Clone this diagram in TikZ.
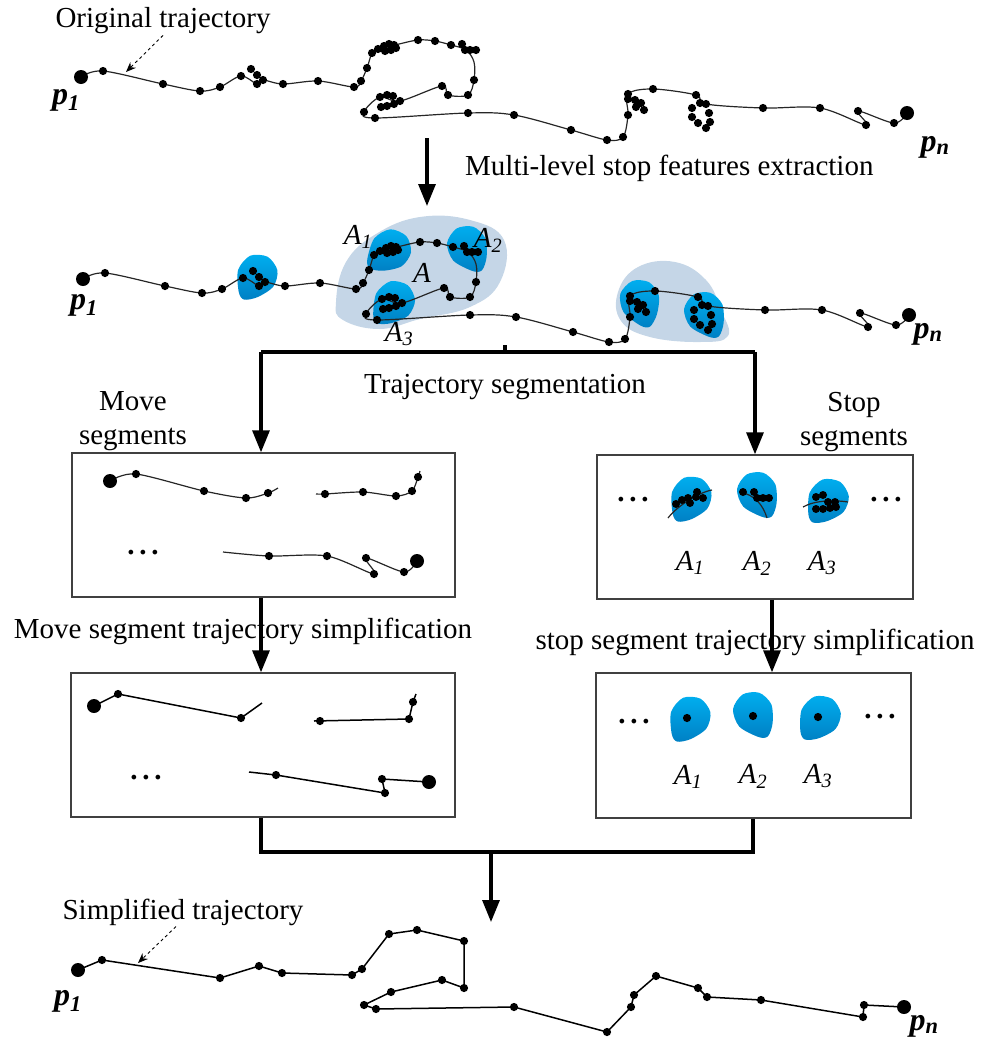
\documentclass[tikz,border=0pt]{standalone}
\usepackage{fontspec}
\setmainfont{Liberation Serif}
\usetikzlibrary{arrows.meta,positioning}
\definecolor{stopBleu}{RGB}{0,174,239}
\definecolor{stopBleuFonce}{RGB}{0,128,196}
\definecolor{zoneGris}{RGB}{197,214,231}

\tikzset{
  traj/.style={line width=1.2pt, black!85},
  trajdroit/.style={line width=1.5pt, black},
  flux/.style={line width=3.2pt, -{Triangle[length=22pt,width=17pt]}},
  lien/.style={line width=3.2pt},
  cadre/.style={draw=black!75, line width=1.4pt, inner sep=0pt},
  pointeur/.style={dashed, line width=0.9pt, -{Stealth[length=10pt,width=8pt]}},
  etiq/.style={inner sep=1pt}
}

% une zone d'arret (tache bleue)
\newcommand{\tache}[3]{%
  \shade[top color=stopBleu, bottom color=stopBleuFonce, shift={(#1,#2)}, rotate=#3, scale=1.15]
    plot[smooth cycle] coordinates {(-18,8) (-12,-10) (2,-18) (16,-12) (20,2) (12,14) (-4,18) (-16,16)};}

% la trajectoire originale
\newcommand{\trajet}{%
  \draw[traj] plot[smooth, tension=0.55] coordinates {(81,77) (103,71) (163,84) (200,91) (220,87) (241,76) (257,84) (263,80) (283,84) (318,81) (354,87) (361,81) (367,68) (372,53) (378,49) (395,45) (418,40) (435,41) (451,45) (466,50) (474,62) (474,80) (468,95) (448,95) (442,86) (400,101) (380,97) (364,112) (375,118) (468,113) (514,115) (571,130) (607,140) (623,137) (628,115) (628,94) (653,89) (696,95) (706,104) (763,108) (820,108) (866,125) (858,111) (894,123) (907,113)};
  \foreach \p in {(103,71),(163,84),(200,91),(220,87),(241,76),(251,69),(257,75),(257,84),(263,80),(283,84),(318,81),(354,87),(361,81),(367,68),(372,53),(378,49),(384,46),(389,44),(394,45),(385,51),(391,50),(396,48),(418,40),(435,41),(451,45),(462,44),(465,50),(470,50),(476,50),(474,80),(468,95),(448,95),(442,86),(380,97),(387,95),(393,96),(400,101),(381,107),(387,106),(394,104),(364,112),(375,118),(468,113),(514,115),(571,130),(607,140),(623,137),(628,115),(628,94),(628,99),(635,100),(641,103),(636,107),(644,110),(653,89),(696,95),(700,103),(706,104),(692,108),(709,113),(692,117),(710,122),(698,123),(706,128),(763,108),(820,108),(858,111),(866,125),(894,123)}
    \fill \p circle (4.1pt);
  \fill (81,77) circle (7pt);
  \fill (907,113) circle (7pt);}

\newcommand{\pun}{\textbf{\textit{p}\textsubscript{\textit{1}}}}
\newcommand{\pen}{\textbf{\textit{p}\textsubscript{\textit{n}}}}

\begin{document}
\begin{tikzpicture}[x=1pt, y=-1pt, font=\fontsize{29}{34}\selectfont]
  \useasboundingbox (0,0) rectangle (991,1039);

  % Trajectoire originale
  \trajet
  \node[etiq] (orig) at (163,21) {Original trajectory};
  \coordinate (origpt) at (126,72);
  \draw[pointeur] (orig.south) -- (origpt);
  \node[etiq, font=\fontsize{32}{36}\selectfont] (p1a) at (66,100) {\pun};
  \node[etiq, font=\fontsize{32}{36}\selectfont] (pna) at (935,147) {\pen};

  % Extraction
  \coordinate (fluxA) at (427,138);
  \coordinate (fluxB) at (427,206);
  \draw[flux] (fluxA) -- (fluxB);
  \node[etiq, anchor=west] (extr) at (464,168) {Multi-level stop features extraction};

  % Zones d'arret
  \fill[zoneGris] plot[smooth cycle, tension=0.7] coordinates {(336,302) (346,262) (376,234) (420,217) (470,220) (504,240) (500,282) (470,307) (420,319) (380,329) (343,320)};
  \fill[zoneGris] plot[smooth cycle, tension=0.7] coordinates {(618,292) (638,267) (675,262) (706,280) (721,310) (728,336) (700,342) (650,337) (621,321)};
  \tache{255}{276}{20}
  \tache{388}{250}{0}
  \tache{467}{249}{80}
  \tache{392}{302}{10}
  \tache{639}{303}{70}
  \tache{704}{315}{80}
  \begin{scope}[shift={(2,202)}]
    \trajet
  \end{scope}
  \node[etiq] (A1) at (358,237) {\textit{A\textsubscript{1}}};
  \node[etiq] (A2) at (488,240) {\textit{A\textsubscript{2}}};
  \node[etiq] (A) at (422,273) {\textit{A}};
  \node[etiq] (A3) at (399,334) {\textit{A\textsubscript{3}}};
  \node[etiq, font=\fontsize{32}{36}\selectfont] (p1b) at (84,305) {\pun};
  \node[etiq, font=\fontsize{32}{36}\selectfont] (pnb) at (928,334) {\pen};

  % Segmentation
  \node[cadre, minimum width=383pt, minimum height=144pt] (movebox) at (263.5,525) {};
  \node[cadre, minimum width=316pt, minimum height=144pt] (stopbox) at (755,527) {};
  \coordinate (splitC) at (505,345);
  \coordinate (splitL) at (261,352);
  \coordinate (splitR) at (755,352);
  \draw[lien] (splitC) -- (splitC |- splitL);
  \draw[lien] (splitL) -- (splitR);
  \draw[flux] (splitL) -- (splitL |- movebox.north);
  \draw[flux] (splitR) -- (splitR |- stopbox.north);
  \node[etiq] (segm) at (505,387) {Trajectory segmentation};
  \node[etiq, align=center] (movelab) at (133,421) {Move\\segments};
  \node[etiq, align=center] (stoplab) at (854,422) {Stop\\segments};

  % Segments de deplacement
  \draw[traj] plot[smooth, tension=0.5] coordinates {(110,481) (136,474) (204,491) (246,498) (268,493) (278,488)};
  \draw[traj] plot[smooth, tension=0.5] coordinates {(316,494) (325,494) (363,492) (396,496) (412,491) (418,477) (420,471)};
  \draw[traj] plot[smooth, tension=0.5] coordinates {(223,552) (269,556) (327,556) (374,574) (366,558) (404,572) (417,561)};
  \foreach \p in {(136,474),(204,491),(246,498),(268,493),(325,494),(363,492),(396,496),(412,491),(418,477),(269,556),(327,556),(374,574),(366,558),(404,572)}
    \fill \p circle (4.1pt);
  \fill (110,481) circle (7pt);
  \fill (417,561) circle (7pt);
  \node[etiq] (dotsM) at (143,553) {\textbf{.\,.\,.}};

  % Segments d'arret
  \node[etiq] (dotsS1) at (633,500) {\textbf{.\,.\,.}};
  \node[etiq] (dotsS2) at (886,500) {\textbf{.\,.\,.}};
  \tache{689}{498}{20}
  \tache{757}{495}{80}
  \tache{826}{500}{15}
  \draw[traj] (668,518) .. controls (678,505) and (700,492) .. (712,490);
  \draw[traj] (740,492) .. controls (755,495) and (763,505) .. (767,518);
  \draw[traj] (803,507) .. controls (815,500) and (835,500) .. (848,502);
  \foreach \p in {(676,504),(682,500),(688,498),(696,497),(690,503),(697,492),(703,498),(743,492),(754,492),(757,498),(763,498),(769,498),(816,497),(823,495),(828,502),(835,502),(816,509),(823,509),(830,508),(836,507)}
    \fill \p circle (4pt);
  \node[etiq] (sA1) at (690,563) {\textit{A\textsubscript{1}}};
  \node[etiq] (sA2) at (757,563) {\textit{A\textsubscript{2}}};
  \node[etiq] (sA3) at (822,563) {\textit{A\textsubscript{3}}};

  % Simplification
  \node[cadre, minimum width=384pt, minimum height=144pt] (movesimp) at (263,745) {};
  \node[cadre, minimum width=315pt, minimum height=145pt] (stopsimp) at (753.5,745.5) {};
  \coordinate (mvL) at (261,0);
  \coordinate (stR) at (772,0);
  \draw[flux] (mvL |- movebox.south) -- (mvL |- movesimp.north);
  \draw[flux] (stR |- stopbox.south) -- (stR |- stopsimp.north);
  \node[etiq] (simpM) at (243,631) {Move segment trajectory simplification};
  \node[etiq] (simpS) at (755,642) {stop segment trajectory simplification};

  \draw[trajdroit] (94,706) -- (118,694) -- (241,718) -- (262,703);
  \draw[trajdroit] (314,721) -- (409,719) -- (413,702) -- (416,694);
  \draw[trajdroit] (249,772) -- (276,775) -- (385,793) -- (382,779) -- (429,782);
  \foreach \p in {(118,694),(241,718),(320,721),(409,719),(413,702),(276,775),(385,793),(382,779)}
    \fill \p circle (4.1pt);
  \fill (94,706) circle (7pt);
  \fill (429,782) circle (7pt);
  \node[etiq] (dotsM2) at (146,778) {\textbf{.\,.\,.}};

  \node[etiq] (dotsS3) at (634,722) {\textbf{.\,.\,.}};
  \node[etiq] (dotsS4) at (880,717) {\textbf{.\,.\,.}};
  \tache{688}{718}{20}
  \tache{753}{715}{80}
  \tache{818}{717}{15}
  \foreach \p in {(687,718),(753,716),(818,717)}
    \fill \p circle (4.1pt);
  \node[etiq] (tA1) at (688,777) {\textit{A\textsubscript{1}}};
  \node[etiq] (tA2) at (753,776) {\textit{A\textsubscript{2}}};
  \node[etiq] (tA3) at (818,776) {\textit{A\textsubscript{3}}};

  % Fusion
  \coordinate (mergeL) at (261,852);
  \coordinate (mergeR) at (753,852);
  \coordinate (mergeC) at (491,852);
  \coordinate (mergeD) at (491,922);
  \draw[lien] (mergeL |- movesimp.south) -- (mergeL) -- (mergeR) -- (mergeR |- stopsimp.south);
  \draw[flux] (mergeC) -- (mergeD);

  % Trajectoire simplifiee
  \draw[trajdroit] (78,970) -- (102,960) -- (220,978) -- (259,966) -- (282,973) -- (352,975) -- (362,969) -- (389,934) -- (417,930) -- (464,941) -- (464,988) -- (442,980) -- (391,992) -- (364,1005) -- (376,1009) -- (514,1007) -- (607,1032) -- (631,1007) -- (634,995) -- (656,976) -- (698,988) -- (707,997) -- (761,1000) -- (863,1017) -- (864,1005) -- (904,1007);
  \foreach \p in {(102,960),(220,978),(259,966),(282,973),(352,975),(362,969),(389,934),(417,930),(464,941),(464,988),(442,980),(391,992),(364,1005),(376,1009),(514,1007),(607,1032),(631,1007),(634,995),(656,976),(698,988),(707,997),(761,1000),(863,1017),(864,1005)}
    \fill \p circle (4.1pt);
  \fill (78,970) circle (7pt);
  \fill (904,1007) circle (7pt);
  \node[etiq] (simp) at (183,912) {Simplified trajectory};
  \coordinate (simppt) at (138,963);
  \draw[pointeur] (simp.south -| 176,0) -- (simppt);
  \node[etiq, font=\fontsize{32}{36}\selectfont] (p1c) at (68,1001) {\pun};
  \node[etiq, font=\fontsize{32}{36}\selectfont] (pnc) at (924,1026) {\pen};
\end{tikzpicture}
\end{document}
